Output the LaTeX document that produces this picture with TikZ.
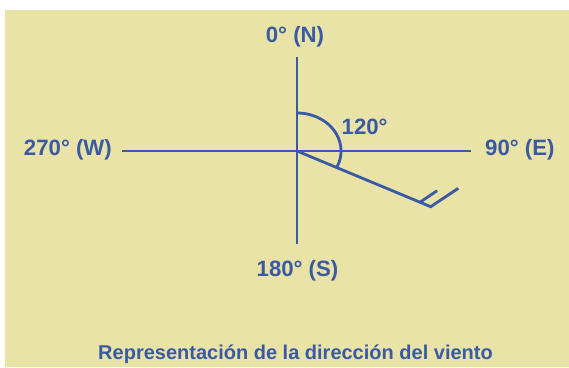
\documentclass[tikz,border=0pt]{standalone}
\usepackage{fontspec}
\setmainfont{Liberation Sans}
\definecolor{bgyellow}{RGB}{233,227,167}
\definecolor{windblue}{RGB}{58,90,163}
\begin{document}
\begin{tikzpicture}[x=1pt,y=-1pt,
  axis/.style={draw=windblue,line width=2.8pt},
  lbl/.style={text=windblue,inner sep=0pt,anchor=base,font=\fontsize{22.2}{25}\selectfont\bfseries},
  caption/.style={text=windblue,inner sep=0pt,anchor=base,font=\fontsize{20}{23}\selectfont\bfseries}]
\useasboundingbox (0,0) rectangle (569,367);
\fill[bgyellow] (5,10) rectangle (569,367);
% axes
\coordinate (C) at (297,151);
\coordinate (Ntop) at (297,57);
\coordinate (Sbot) at (297,244);
\coordinate (Wend) at (122,151);
\coordinate (Eend) at (471,151);
\draw[axis] (Ntop) -- (Sbot);
\draw[axis] (Wend) -- (Eend);
% wind shaft and barbs
\coordinate (tip) at (430.7,206.7);
\coordinate (b1) at (458.3,188.3);
\coordinate (s2) at (420,202.2);
\coordinate (b2) at (437,190.8);
\draw[axis,line join=miter] (C) -- (tip) -- (b1);
\draw[axis] (s2) -- (b2);
% angle arc
\draw[axis] plot[domain=90:-25.7,samples=50,smooth] ({297+44*cos(\x)},{151-38*sin(\x)});
% labels
\node[lbl] (N) at (295,42.7) {0° (N)};
\node[lbl] (S) at (297.5,276.7) {180° (S)};
\node[lbl,anchor=base east] (W) at (112,155) {270° (W)};
\node[lbl,anchor=base west] (E) at (485,155) {90° (E)};
\node[lbl,anchor=base west] (A) at (341.5,134.3) {120°};
\node[caption] (cap) at (295.5,359) {Representación de la dirección del viento};
\end{tikzpicture}
\end{document}
